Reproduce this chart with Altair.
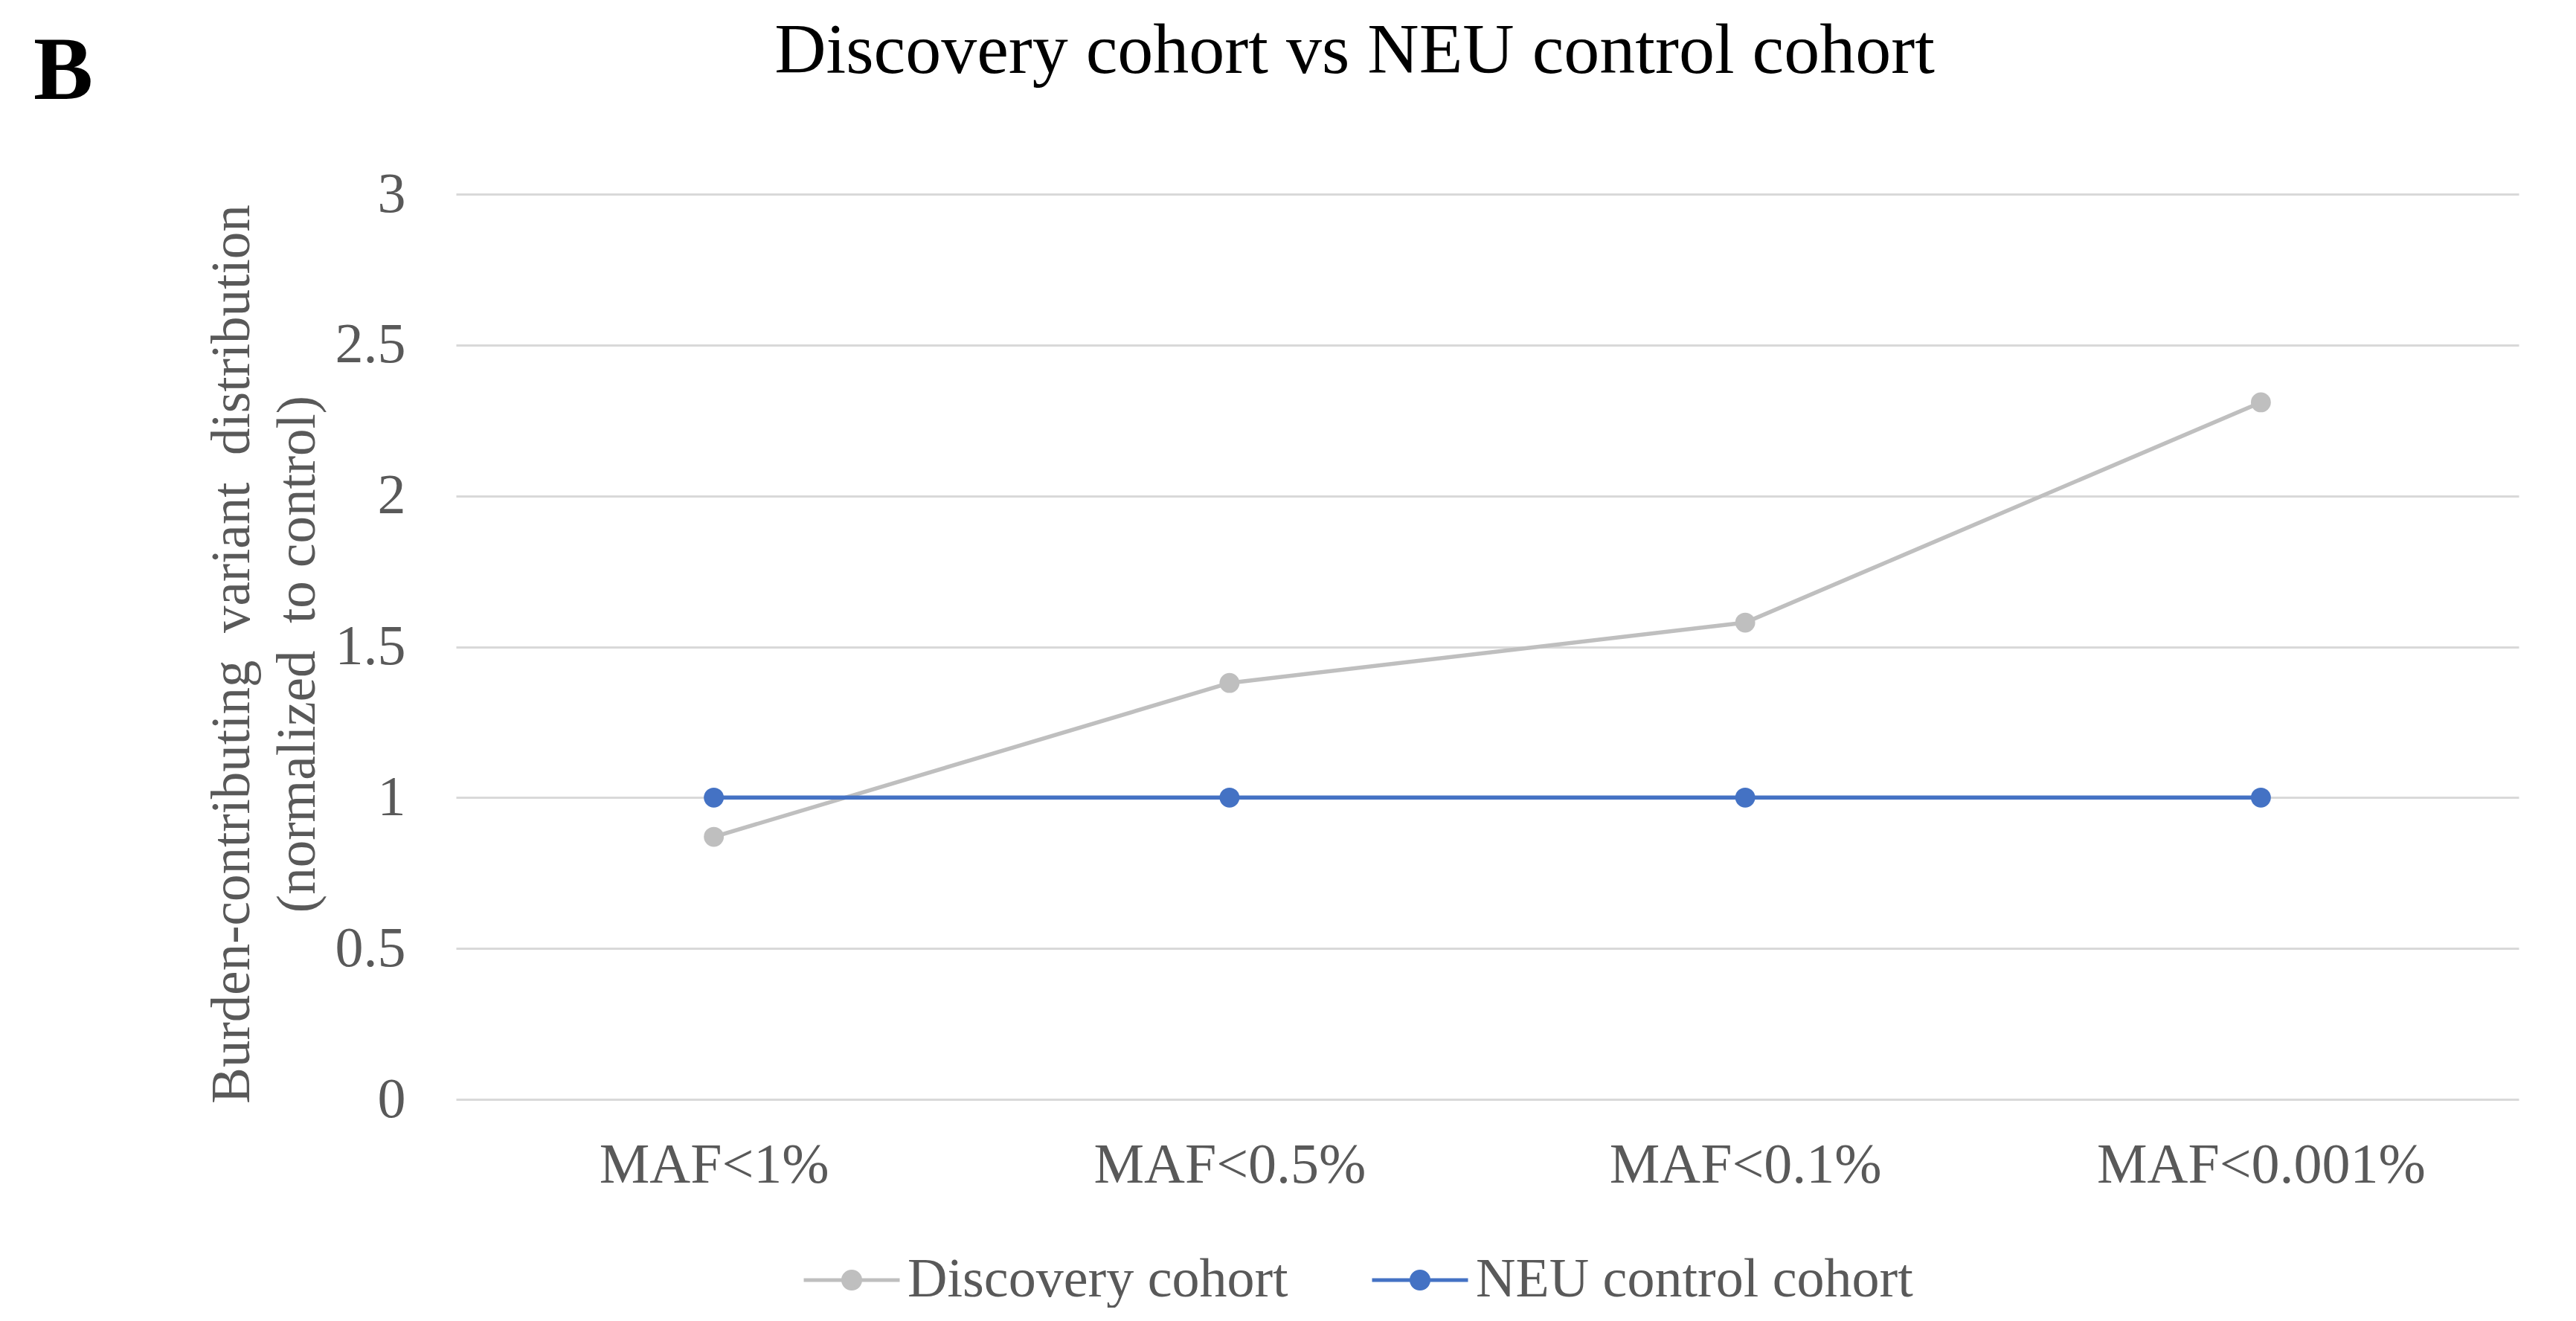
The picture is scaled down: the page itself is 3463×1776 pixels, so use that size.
import altair as alt
import pandas as pd

categories = ["MAF<1%", "MAF<0.5%", "MAF<0.1%", "MAF<0.001%"]
series_names = ["Discovery cohort", "NEU control cohort"]
discovery = [0.87, 1.38, 1.58, 2.31]
neu_control = [1.0, 1.0, 1.0, 1.0]
y_ticks = [0, 0.5, 1, 1.5, 2, 2.5, 3]
title_text = ["Discovery cohort vs NEU control cohort"]
panel_label = ["B"]
y_title = ["Burden-contributing\u00a0 variant\u00a0 distribution", "(normalized\u00a0 to control)"]
colors = ["#BFBFBF", "#4472C4"]

FONT = "Liberation Serif"
GREY_TEXT = "#595959"

rows = []
for name, vals in zip(series_names, [discovery, neu_control]):
    for c, v in zip(categories, vals):
        rows.append({"cat": c, "value": v, "series": name})
df = pd.DataFrame(rows)

legend_symbol = "M-1,0L1,0M0.178,0A0.178,0.178,0,1,1,-0.178,0A0.178,0.178,0,1,1,0.178,0Z"
series_color = alt.ExprRef("scale('color', datum.value)")

base = alt.Chart(df).encode(
    x=alt.X(
        "cat:N",
        sort=categories,
        scale=alt.Scale(type="point", padding=0.5),
        title=None,
        axis=alt.Axis(
            labelAngle=0,
            labelFont=FONT,
            labelFontSize=76,
            labelColor=GREY_TEXT,
            labelPadding=51,
            labelBaseline="top",
            labelLimit=1000,
            ticks=False,
            domain=False,
            grid=False,
        ),
    ),
    y=alt.Y(
        "value:Q",
        scale=alt.Scale(domain=[0, 3], nice=False, zero=True),
        title=y_title,
        axis=alt.Axis(
            values=y_ticks,
            format=".1~f",
            labelFont=FONT,
            labelFontSize=76,
            labelColor=GREY_TEXT,
            labelPadding=68,
            ticks=False,
            domain=False,
            grid=True,
            gridColor="#D9D9D9",
            gridWidth=3,
            titleFont=FONT,
            titleFontSize=73,
            titleFontWeight="normal",
            titleColor=GREY_TEXT,
            titleAngle=270,
            titleAlign="center",
            titleBaseline="bottom",
            titleLineHeight=88,
            titleLimit=3000,
            titleX=-264,
            titleY=618,
        ),
    ),
    color=alt.Color(
        "series:N",
        sort=series_names,
        scale=alt.Scale(domain=series_names, range=colors),
        legend=alt.Legend(
            title=None,
            orient="none",
            direction="horizontal",
            legendX=465,
            legendY=1393,
            padding=0,
            symbolType=legend_symbol,
            symbolSize=16641,
            symbolStrokeWidth=5,
            symbolFillColor=series_color,
            symbolStrokeColor=series_color,
            symbolOpacity=1,
            labelFont=FONT,
            labelFontSize=74,
            labelColor=GREY_TEXT,
            labelLimit=0,
            labelOffset=8,
            columnPadding=102,
        ),
    ),
)

lines = base.mark_line(strokeWidth=5.5)
points = base.mark_point(filled=True, size=720, opacity=1)

label_b = alt.Chart(pd.DataFrame({"t": panel_label})).mark_text(
    font=FONT, fontSize=120, fontWeight="bold", align="left", baseline="alphabetic", color="black"
).encode(text="t:N", x=alt.value(-568), y=alt.value(-128))

title_mark = alt.Chart(pd.DataFrame({"t": title_text})).mark_text(
    font=FONT, fontSize=96, fontWeight="normal", align="center", baseline="alphabetic", color="black"
).encode(text="t:N", x=alt.value(1208), y=alt.value(-163))

chart = (
    alt.layer(lines, points, label_b, title_mark)
    .properties(
        width=2773,
        height=1217,
        padding={"left": 605, "top": 253, "right": 50, "bottom": 280},
        autosize=alt.AutoSizeParams(type="none"),
        background="white",
    )
    .configure_view(stroke=None)
)

chart.save("out.html", embed_options={"renderer": "svg", "actions": False})
